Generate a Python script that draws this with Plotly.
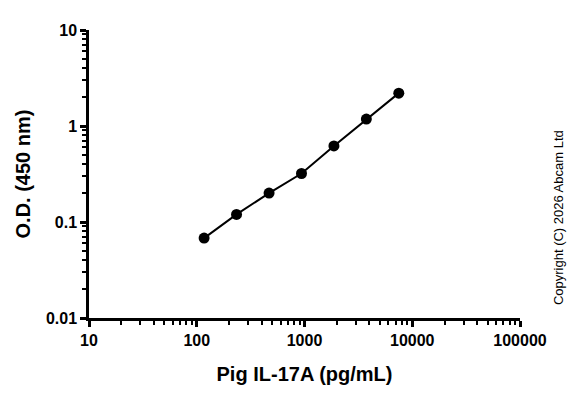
import plotly.graph_objects as go

conc = [117, 234, 469, 938, 1875, 3750, 7500]
od = [0.068, 0.12, 0.2, 0.32, 0.62, 1.18, 2.2]
x_ticks = [10, 100, 1000, 10000, 100000]
x_labels = ["10", "100", "1000", "10000", "100000"]
y_ticks = [0.01, 0.1, 1, 10]
y_labels = ["0.01", "0.1", "1", "10"]

x_minor = [m * 10 ** d for d in range(1, 5) for m in range(2, 10)]
y_minor = [m * 10.0 ** d for d in range(-2, 1) for m in range(2, 10)]

fig = go.Figure()
fig.add_trace(go.Scatter(x=conc, y=od, mode='lines+markers',
                         line=dict(color='black', width=2),
                         marker=dict(color='black', size=11),
                         showlegend=False))

axis_common = dict(type='log', showgrid=False, zeroline=False,
                   showline=True, linecolor='black', linewidth=2.5,
                   ticks='outside', ticklen=6, tickwidth=2.5, tickcolor='black',
                   tickfont=dict(family='Liberation Sans', size=16, color='black', weight='bold'))

fig.update_xaxes(range=[1, 5], tickvals=x_ticks, ticktext=x_labels,
                 minor=dict(tickvals=x_minor, ticks='outside', ticklen=4, tickwidth=1.5,
                            tickcolor='black', showgrid=False),
                 title=dict(text="Pig IL-17A (pg/mL)", standoff=20,
                            font=dict(family='Liberation Sans', size=20, color='black', weight='bold')),
                 **axis_common)
fig.update_yaxes(range=[-2, 1], tickvals=y_ticks, ticktext=y_labels,
                 minor=dict(tickvals=y_minor, ticks='outside', ticklen=4, tickwidth=1.5,
                            tickcolor='black', showgrid=False),
                 title=dict(text="O.D. (450 nm)", standoff=10,
                            font=dict(family='Liberation Sans', size=20, color='black', weight='bold')),
                 **axis_common)

fig.add_annotation(text="Copyright (C) 2026 Abcam Ltd", textangle=-90,
                   xref='paper', yref='paper', x=1.11, y=0.35, showarrow=False,
                   font=dict(family='Liberation Sans', size=13, color='black'))

fig.update_layout(width=583, height=403, margin=dict(l=81, r=71, t=22, b=93),
                  plot_bgcolor='white', paper_bgcolor='white')
fig.write_html("out.html")
